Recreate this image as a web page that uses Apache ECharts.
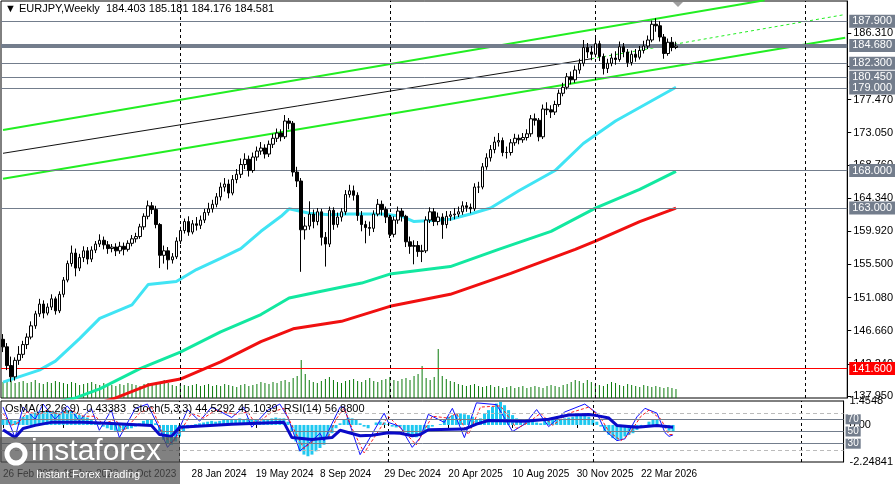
<!DOCTYPE html>
<html><head><meta charset="utf-8">
<script src="https://cdn.jsdelivr.net/npm/echarts@6/dist/echarts.min.js"></script>
<style>html,body{margin:0;padding:0;background:#fff}#c{width:896px;height:484px}</style>
</head><body><div id="c"></div>
<script>
// ---- data ----
const firstOpen = 145.5;
const closes = [144.5,142.0,140.5,142.7,143.5,144.8,145.8,147.3,148.9,150.2,149.0,149.8,150.9,149.3,151.5,153.4,155.6,157.0,155.0,156.4,157.3,156.2,157.4,158.2,158.7,158.1,157.6,157.8,157.3,157.9,157.5,158.3,158.9,159.2,160.5,161.9,163.3,162.8,160.8,156.7,157.3,156.1,156.5,158.6,160.0,161.2,159.8,160.9,160.7,161.4,162.4,162.9,163.5,164.5,165.8,166.2,165.0,166.8,167.5,168.8,169.5,168.0,169.8,170.6,171.0,170.2,171.5,172.3,173.0,172.5,174.6,174.3,167.8,166.6,160.1,160.6,162.2,161.2,162.5,159.1,158.2,162.7,160.8,161.8,162.5,164.8,165.3,164.7,162.0,160.8,160.4,160.3,162.2,163.5,162.8,161.8,159.5,161.4,162.6,161.9,158.5,157.9,158.0,157.2,157.3,161.4,162.5,161.2,161.8,160.8,161.9,162.1,162.2,162.5,163.3,163.1,162.9,165.8,165.8,168.5,169.7,170.8,171.8,172.0,170.4,170.4,171.7,172.3,172.1,172.4,172.9,174.9,174.7,172.5,176.2,176.1,175.8,176.8,178.3,179.1,180.5,180.1,181.4,182.3,184.4,183.8,183.5,184.9,183.2,181.6,182.3,183.0,182.8,184.5,183.8,182.4,183.5,183.1,184.0,184.6,185.4,187.5,187.3,185.8,183.6,185.1,184.403,184.581];
const highs = [146.2,145.0,143.2,143.1,144.6,145.3,146.3,147.9,149.3,150.9,150.7,150.3,151.5,151.2,151.9,153.8,156.0,158.0,157.6,156.9,157.9,157.8,157.9,158.6,159.5,159.2,158.6,158.2,158.3,158.5,158.4,158.7,159.4,159.7,160.9,162.3,164.0,163.8,163.3,161.0,158.0,157.8,157.0,159.1,160.5,161.6,161.9,161.4,161.8,162.0,162.9,163.7,164.1,165.0,166.4,167.0,166.8,167.4,168.2,169.6,170.3,170.0,170.4,171.2,171.8,171.5,172.0,172.9,173.6,173.5,175.4,175.0,174.6,168.5,167.0,161.8,163.9,162.8,163.0,162.9,159.8,163.2,163.1,162.4,163.0,165.4,166.1,166.0,165.1,162.6,161.3,161.2,162.7,164.2,164.0,163.2,162.1,161.9,163.2,163.0,162.1,159.2,158.7,158.6,158.1,161.9,163.1,163.0,162.4,162.3,162.6,162.6,163.0,163.2,163.9,163.8,163.6,166.3,166.5,169.0,170.3,171.4,172.5,173.0,172.4,171.2,172.2,172.9,172.8,173.0,173.5,175.4,175.6,175.0,176.8,177.1,176.7,177.3,178.8,179.7,181.0,181.2,182.0,182.9,185.4,185.0,184.6,186.0,185.3,183.6,182.9,183.6,183.9,185.2,185.0,184.2,184.0,184.2,184.6,185.3,186.0,188.0,188.3,187.9,186.2,185.6,185.8,185.181];
const lows = [143.8,141.4,139.8,140.0,142.1,143.0,144.2,145.5,146.9,148.5,148.3,148.7,149.4,148.8,149.0,151.1,153.1,155.2,153.9,154.6,155.8,155.5,155.8,157.0,157.8,157.5,156.9,157.1,156.6,156.9,156.7,157.2,157.9,158.4,158.9,160.1,161.5,162.2,160.3,155.0,155.6,154.8,155.6,156.2,158.2,159.6,159.3,159.5,160.0,160.2,161.0,162.0,162.4,163.1,164.0,165.2,164.3,164.7,166.3,167.0,168.2,167.2,167.7,169.3,170.1,169.6,169.8,171.0,171.8,171.9,172.2,173.5,167.2,165.8,154.5,158.8,160.1,160.3,160.7,158.0,155.2,157.8,160.1,160.4,161.2,162.1,164.4,164.0,161.3,159.9,158.3,159.3,159.8,161.9,162.0,161.0,159.0,159.1,160.9,161.2,157.8,156.9,155.5,156.5,155.8,157.0,161.0,160.6,160.7,158.9,160.3,161.3,161.5,161.8,162.1,162.5,162.3,162.6,165.0,165.5,168.1,169.2,170.3,171.2,169.9,169.6,170.0,171.3,171.5,171.7,172.0,172.5,174.0,171.9,172.2,175.4,175.0,175.4,176.5,177.9,178.8,179.5,179.7,180.9,181.9,183.0,182.7,183.1,182.6,180.8,181.0,181.9,182.1,182.5,183.1,181.8,182.0,182.5,182.8,183.6,184.2,185.1,186.5,185.2,182.9,183.3,183.9,184.176];
const volumes = [16,17,18,15,16,17,15,16,18,15,14,16,15,17,16,15,14,16,15,13,14,15,16,14,13,15,14,13,12,14,13,15,14,13,12,14,15,13,14,16,18,15,13,12,14,13,12,13,14,12,13,14,12,13,12,14,13,12,11,13,14,12,13,14,16,15,14,16,15,17,18,16,20,22,38,24,18,16,15,17,19,21,18,16,15,17,18,19,17,16,18,20,17,16,18,19,21,18,17,19,20,18,22,24,32,20,18,21,49,22,19,17,16,14,13,12,13,14,12,11,12,13,11,12,10,11,12,10,11,12,10,11,12,11,10,12,13,12,11,13,14,16,18,17,15,18,16,14,13,12,14,16,15,13,12,14,13,12,11,13,12,11,12,11,10,11,10,9];
const weekDates = ['26 Feb 2023','18 Jun 2023','8 Oct 2023','28 Jan 2024','19 May 2024','8 Sep 2024','29 Dec 2024','20 Apr 2025','10 Aug 2025','30 Nov 2025','22 Mar 2026'];
const weekDateIdx = [0,15,31,47,63,79,95,111,127,143,159];
const priceTicks = [137.95,142.24,146.66,151.08,155.50,159.92,164.34,168.76,173.05,177.47,181.89,186.31];
const levelPrices = [187.9,184.68,182.3,180.45,179.0,168.0,163.0];
const redLevel = 141.6;
// moving averages read at sample weeks [week, price]
const maFast = [[0,139.8],[9,141.4],[13,142.6],[19,145.6],[24,148.3],[32,150.1],[36,152.8],[43,153.2],[48,154.8],[54,156.3],[59,157.6],[64,159.9],[69,161.9],[71,162.9],[76,162.3],[81,162.1],[86,162.2],[94,162.2],[99,161.9],[102,161.2],[111,161.5],[116,162.2],[121,163.0],[128,165.3],[137,168.0],[144,171.6],[152,174.6],[158,176.4],[167,179.1]];
const maMid = [[14,137.2],[18,137.7],[24,138.9],[34,141.6],[44,143.8],[54,146.5],[64,148.8],[71,151.0],[79,151.9],[89,153.0],[96,154.2],[111,155.2],[123,157.5],[136,159.9],[147,163.0],[158,165.5],[167,167.9]];
const maSlow = [[25,137.2],[28,137.7],[36,139.4],[44,140.2],[54,142.5],[64,145.2],[72,146.9],[84,147.9],[96,149.9],[111,151.5],[126,154.3],[142,157.5],[147,158.6],[158,161.2],[167,163.0]];
// channel lines [week, price]
const chanUpper = [[0,173.4],[189,190.7]];
const chanMid = [[0,170.3],[146,182.9]];
const chanMidExt = [[146,182.9],[209,188.8]];
const chanLower = [[0,166.9],[209,185.7]];
const vLines = [44,96,147,199];
// sub-window indicators
const osma = [0.3,0.35,0.3,0.25,0.35,0.5,0.6,0.7,0.75,0.8,0.85,0.9,0.85,0.8,0.75,0.8,0.9,0.85,0.7,0.6,0.55,0.45,0.35,0.2,0.1,-0.1,-0.2,-0.3,-0.35,-0.4,-0.3,-0.25,-0.2,-0.1,0.1,0.25,0.35,0.3,0.1,-0.4,-0.9,-1.1,-1.2,-1.0,-0.7,-0.4,-0.2,-0.1,0.05,0.1,0.15,0.2,0.25,0.2,0.25,0.3,0.35,0.3,0.35,0.4,0.35,0.4,0.35,0.3,0.25,0.3,0.35,0.4,0.45,0.4,0.4,0.2,-0.4,-1.0,-1.6,-1.8,-1.9,-1.8,-1.6,-1.4,-1.2,-0.8,-0.5,-0.2,0.1,0.3,0.45,0.4,0.3,0.1,-0.1,-0.2,0.0,0.15,0.2,0.15,0.05,-0.1,-0.15,-0.1,-0.35,-0.55,-0.7,-0.75,-0.6,-0.35,-0.2,-0.1,0.0,0.05,0.3,0.5,0.6,0.65,0.7,0.65,0.6,0.5,0.3,0.4,0.7,0.9,1.1,1.3,1.4,1.2,0.9,0.6,0.4,0.2,0.1,0.2,0.3,0.15,0.1,0.3,0.4,0.35,0.3,0.35,0.4,0.45,0.5,0.55,0.6,0.55,0.5,0.35,0.2,-0.1,-0.4,-0.6,-0.8,-0.9,-0.85,-0.7,-0.6,-0.5,-0.3,-0.1,0.0,0.2,0.35,0.3,0.0,-0.2,-0.35,-0.43];
const rsi = [[0,53],[3,40],[5,55],[8,60],[12,65],[20,65],[27,63],[37,60],[39,45],[42,42],[44,57],[57,62],[70,65],[72,40],[77,37],[82,40],[84,52],[89,43],[92,44],[96,48],[99,47],[102,43],[104,45],[106,53],[115,54],[118,62],[121,68],[130,67],[136,70],[141,77],[146,78],[148,76],[151,72],[153,60],[158,57],[163,60],[167,56.9]];
const stochK = [[0,90],[3,40],[5,90],[8,70],[10,95],[13,70],[16,92],[19,68],[22,88],[24,52],[27,85],[29,40],[33,88],[36,95],[39,55],[41,24],[43,40],[46,86],[49,67],[52,90],[57,73],[60,90],[62,57],[66,85],[69,95],[71,73],[74,18],[77,35],[79,47],[80,35],[82,63],[84,90],[85,90],[89,12],[95,80],[96,65],[99,58],[102,24],[104,40],[106,78],[110,65],[112,88],[115,40],[118,97],[123,94],[127,50],[130,62],[133,86],[136,58],[140,82],[145,95],[148,80],[150,52],[153,35],[155,38],[158,74],[160,88],[163,80],[165,48],[166,42],[167,44.5]];
const stochD = [[0,80],[2,60],[4,65],[6,82],[9,78],[11,85],[14,78],[17,85],[20,75],[23,75],[25,62],[28,70],[30,50],[34,80],[37,90],[40,45],[42,30],[44,48],[47,80],[50,72],[53,85],[58,78],[61,82],[63,62],[67,82],[70,88],[72,60],[75,22],[78,38],[81,40],[83,70],[85,88],[87,55],[90,15],[96,75],[98,62],[100,50],[103,28],[105,52],[107,75],[111,72],[113,80],[116,45],[119,90],[124,92],[128,55],[131,65],[134,80],[137,60],[141,80],[146,90],[149,72],[151,50],[154,35],[156,45],[159,75],[161,85],[164,70],[166,45],[167,45.1]];
const oscLevels = [80,70,50,30,20];

// ---- build ----
const N = 210;
const cats = [];
for (let i = 0; i < N; i++) cats.push('w' + i);
const ohlc = closes.map((c, i) => [i === 0 ? firstOpen : closes[i - 1], c, lows[i], highs[i]]);
const font = 'Liberation Sans';
const grayBox = '#737d8c';

const chart = echarts.init(document.getElementById('c'), null, {renderer: 'canvas'});
const lineS = (d, color, w, extra) => Object.assign({type: 'line', data: d, symbol: 'none', silent: true, lineStyle: {color: color, width: w}, z: 3}, extra || {});
const maOpt = {smooth: false};

chart.setOption({
  animation: false,
  backgroundColor: '#fff',
  grid: [
    {left: 1, right: 48, top: 1, height: 397, show: true, borderColor: '#000', borderWidth: 1},
    {left: 1, right: 48, top: 401, height: 61, show: true, borderColor: '#000', borderWidth: 1}
  ],
  xAxis: [
    {type: 'category', data: cats, gridIndex: 0, axisLine: {show: false}, axisTick: {show: false}, axisLabel: {show: false}, splitLine: {show: false}},
    {type: 'category', data: cats, gridIndex: 1, axisLine: {show: false},
     axisTick: {show: true, customValues: weekDateIdx, length: 3, lineStyle: {color: '#000'}, alignWithLabel: true},
     axisLabel: {customValues: weekDateIdx, formatter: (v) => weekDates[weekDateIdx.indexOf(Number(String(v).replace('w','')))] || '', align: 'left', fontFamily: font, fontSize: 10, color: '#000', margin: 7},
     splitLine: {show: false}}
  ],
  yAxis: [
    {type: 'value', gridIndex: 0, position: 'right', min: 137.68, max: 190.6, axisLine: {show: true, lineStyle: {color: '#000'}},
     axisTick: {show: true, customValues: priceTicks, length: 4, inside: false, lineStyle: {color: '#000'}},
     axisLabel: {customValues: priceTicks, formatter: v => v.toFixed(3), fontFamily: font, fontSize: 11, color: '#000', margin: 6},
     splitLine: {show: false}},
    {type: 'value', gridIndex: 0, position: 'left', min: 0, max: 397, show: false},
    {type: 'value', gridIndex: 1, position: 'right', min: -2.24841, max: 1.4548, axisLine: {show: true, lineStyle: {color: '#000'}},
     axisTick: {show: false},
     axisLabel: {customValues: [1.4548, 0, -2.24841], formatter: v => v === 0 ? '0.00' : String(v), fontFamily: font, fontSize: 11, color: '#000', margin: 6},
     splitLine: {show: false}},
    {type: 'value', gridIndex: 1, position: 'left', min: 0, max: 100, show: false}
  ],
  graphic: [
    {type: 'text', left: 5, top: 3, style: {text: '▼ EURJPY,Weekly  184.403 185.181 184.176 184.581', font: '11px "Liberation Sans"', fill: '#000'}, z: 20},
    {type: 'polygon', shape: {points: [[673, 2], [683, 2], [678, 7]]}, style: {fill: '#a0a0a0'}, z: 20},
    {type: 'text', left: 5, top: 403, style: {text: 'OsMA(12,26,9) -0.43383  Stoch(5,3,3) 44.5292 45.1039  RSI(14) 56.8800', font: '11px "Liberation Sans"', fill: '#000'}, z: 20},
    {type: 'rect', shape: {x: 0, y: 437, width: 180, height: 47}, style: {fill: 'rgba(80,80,80,0.72)'}, z: 30},
    {type: 'circle', shape: {cx: 16, cy: 454, r: 9}, style: {fill: 'none', stroke: '#fff', lineWidth: 5}, z: 31},
    {type: 'text', x: 31, y: 437, style: {text: 'instaforex', font: '30px "Liberation Sans"', fill: '#fff'}, z: 31},
    {type: 'text', x: 36, y: 469, style: {text: 'Instant Forex Trading', font: '11px "Liberation Sans"', fill: '#fff'}, z: 31}
  ],
  series: [
    {type: 'bar', xAxisIndex: 0, yAxisIndex: 1, data: volumes, barWidth: 1, itemStyle: {color: '#0a7a0a'}, silent: true, z: 1},
    lineS(maSlow, '#f01010', 3, maOpt),
    lineS(maMid, '#12e8a0', 3, maOpt),
    lineS(maFast, '#40e4f4', 3, maOpt),
    lineS(chanUpper, '#22ee22', 2),
    lineS(chanLower, '#22ee22', 2),
    lineS(chanMid, '#111', 1),
    lineS(chanMidExt, '#22ee22', 1, {lineStyle: {color: '#22ee22', width: 1, type: [3, 3]}}),
    {type: 'candlestick', xAxisIndex: 0, yAxisIndex: 0, data: ohlc, barWidth: 3, z: 5, silent: true,
     itemStyle: {color: '#fff', color0: '#000', borderColor: '#000', borderColor0: '#000', borderWidth: 1},
     markLine: {silent: true, symbol: 'none', animation: false,
       data: [
         ...levelPrices.map(p => ({yAxis: p, lineStyle: {color: grayBox, width: p === 184.68 ? 4 : 1, type: 'solid'},
           label: {show: true, position: 'end', distance: 2, formatter: p.toFixed(3), backgroundColor: grayBox, color: '#fff', fontFamily: font, fontSize: 11, padding: [1, 3]}})),
         {yAxis: redLevel, lineStyle: {color: '#ff0000', width: 1, type: 'solid'},
           label: {show: true, position: 'end', distance: 2, formatter: redLevel.toFixed(3), backgroundColor: '#ff0000', color: '#fff', fontFamily: font, fontSize: 11, padding: [1, 3]}},
         ...vLines.map(v => ({xAxis: v, lineStyle: {color: '#000', width: 1, type: [3, 3]}, label: {show: false}}))
       ]}},
    {type: 'bar', xAxisIndex: 1, yAxisIndex: 2, data: osma, barWidth: 3, itemStyle: {color: '#1ec8f0'}, silent: true, z: 2,
     markLine: {silent: true, symbol: 'none', data: vLines.map(v => ({xAxis: v, lineStyle: {color: '#000', width: 1, type: [3, 3]}, label: {show: false}}))}},
    {type: 'line', xAxisIndex: 1, yAxisIndex: 3, data: stochK, symbol: 'none', silent: true, lineStyle: {color: '#1010ff', width: 1}, z: 4,
     markLine: {silent: true, symbol: 'none', animation: false,
       data: oscLevels.map(l => ({yAxis: l, lineStyle: {color: (l === 80 || l === 20) ? '#bbb' : grayBox, width: 1, type: (l === 80 || l === 20) ? [4, 3] : 'solid'},
         label: {show: l !== 80 && l !== 20, position: 'end', distance: 2, formatter: String(l), backgroundColor: grayBox, color: '#fff', fontFamily: font, fontSize: 10, padding: [0, 2]}}))}},
    {type: 'line', xAxisIndex: 1, yAxisIndex: 3, data: stochD, symbol: 'none', silent: true, lineStyle: {color: '#ff2020', width: 1, type: [3, 2]}, z: 4},
    {type: 'line', xAxisIndex: 1, yAxisIndex: 3, data: rsi, symbol: 'none', silent: true, lineStyle: {color: '#0a0ac8', width: 3}, z: 5}
  ]
});
</script></body></html>
